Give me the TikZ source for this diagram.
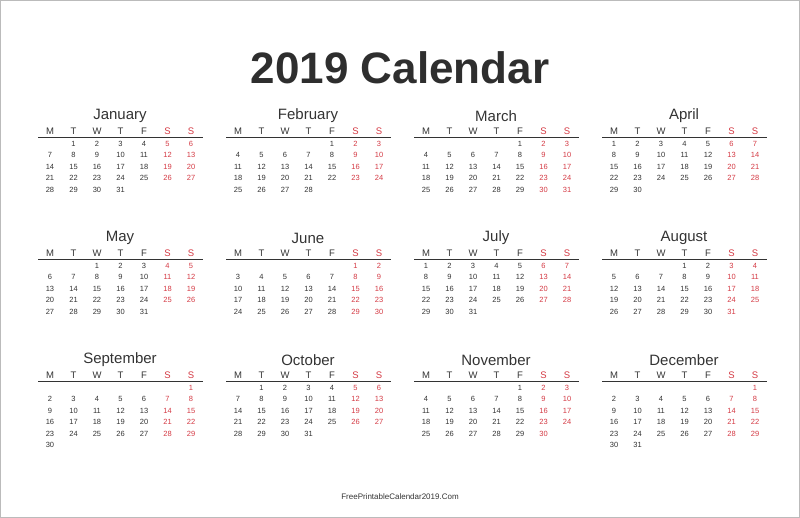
\documentclass[tikz,border=0pt]{standalone}
\usepackage{fontspec}
\setmainfont{Liberation Sans}
\definecolor{ink}{HTML}{333333}
\definecolor{wk}{HTML}{D43A44}
\definecolor{frame}{HTML}{BBBBBB}
\begin{document}
\begin{tikzpicture}[x=1pt,y=-1pt,
  daynum/.style={font=\fontsize{7.5}{8}\selectfont,text=ink,inner sep=0pt,anchor=center},
  wkhead/.style={font=\fontsize{9.5}{10}\selectfont,text=ink,inner sep=0pt},
  mname/.style={font=\fontsize{15}{16}\selectfont,text=ink,inner sep=0pt}]
\useasboundingbox (0,0) rectangle (800,518);
\draw[frame,line width=1pt] (0.5,0.5) rectangle (799.5,517.5);
\node[font=\bfseries\fontsize{44}{46}\selectfont,text=ink!90!black,inner sep=0pt] (title) at (400,68) {2019 Calendar};
\node[font=\fontsize{8}{9}\selectfont,text=ink,inner sep=0pt] (foot) at (400,497) {FreePrintableCalendar2019.Com};
\foreach \name/\off/\nd [count=\i from 0] in {January/1/31,February/4/28,March/4/31,April/0/30,May/2/31,June/5/30,July/0/31,August/3/31,September/6/30,October/1/31,November/4/30,December/6/31}{
  \pgfmathsetmacro{\bx}{50+188*mod(\i,4)}
  \pgfmathsetmacro{\by}{122*int(\i/4)}
  \node[mname] (m\i) at (\bx+70,116+\by) {\name};
  \foreach \h [count=\c from 0] in {M,T,W,T,F,S,S}{
    \pgfmathsetmacro{\hx}{\bx+23.5*\c}
    \ifnum\c>4
      \node[wkhead,text=wk] (h\i-\c) at (\hx,131+\by) {\h};
    \else
      \node[wkhead] (h\i-\c) at (\hx,131+\by) {\h};
    \fi
  }
  \draw[ink,line width=1.6pt] (\bx-12,137.5+\by) -- (\bx+153,137.5+\by);
  \foreach \d in {1,...,\nd}{
    \pgfmathtruncatemacro{\p}{\d-1+\off}
    \pgfmathtruncatemacro{\cc}{mod(\p,7)}
    \pgfmathsetmacro{\dx}{\bx+23.5*\cc}
    \pgfmathsetmacro{\dy}{143.5+\by+11.5*int(\p/7)}
    \ifnum\cc>4
      \node[daynum,text=wk] (d\i-\d) at (\dx,\dy) {\d};
    \else
      \node[daynum] (d\i-\d) at (\dx,\dy) {\d};
    \fi
  }
}
\end{tikzpicture}
\end{document}
